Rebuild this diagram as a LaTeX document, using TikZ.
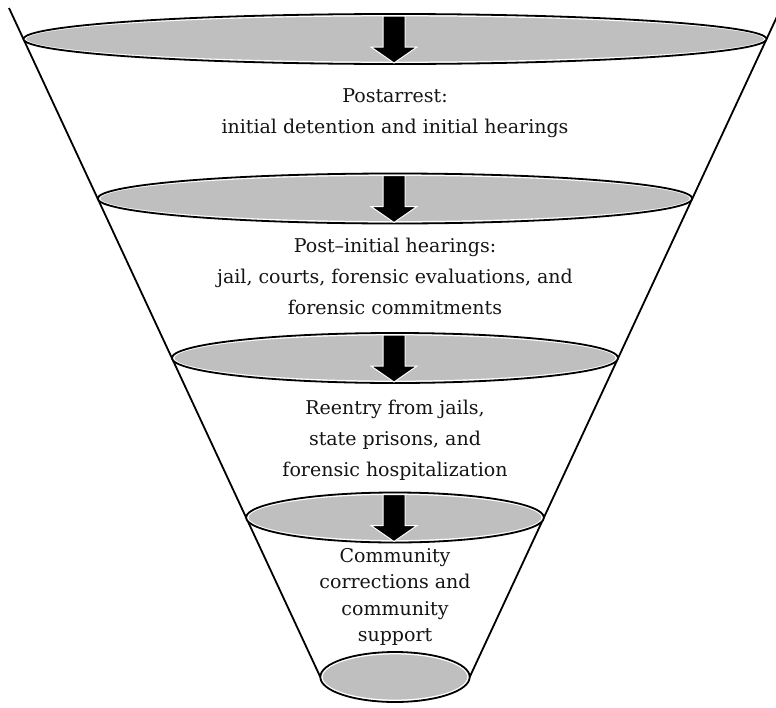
\documentclass[tikz,border=0pt]{standalone}
\usepackage{fontspec}
\setmainfont{DejaVu Serif}
\usetikzlibrary{calc}
\definecolor{funnelgray}{HTML}{BFBFBF}
\tikzset{
  coneline/.style={draw=black, line width=1.8pt},
  diskfill/.style={fill=funnelgray},
  diskinner/.style={draw=white, line width=1.6pt},
  diskouter/.style={draw=black, line width=1.8pt},
  flowarrow/.style={fill=black, draw=white, line width=1pt, line join=miter},
  lbl/.style={align=center, inner sep=0pt, text=black!92, font=\fontsize{19}{31}\selectfont},
}
\begin{document}
\begin{tikzpicture}[x=1pt,y=-1pt]
\useasboundingbox (0,0) rectangle (776,707);
\clip (0,0) rectangle (776,707);
% cone
\coordinate (tl) at (9,8);
\coordinate (tr) at (781,8);
\coordinate (bl) at (320.3,677);
\coordinate (br) at (469.7,677);
\draw[coneline] (tl) -- (bl);
\draw[coneline] (tr) -- (br);
% disks
\foreach \i/\cy/\rx in {1/39/371.5, 2/198.5/297.3, 3/358/223.1, 4/517.5/148.9, 5/677/74.7}{
  \coordinate (e\i) at (395,\cy);
  \fill[diskfill] (e\i) ellipse [x radius=\rx pt, y radius=25pt];
  \draw[diskinner] (e\i) ellipse [x radius=\rx pt-1.6pt, y radius=23.4pt];
  \draw[diskouter] (e\i) ellipse [x radius=\rx pt, y radius=25pt];
}
% arrows
\foreach \i/\cy in {1/39, 2/198.5, 3/358, 4/517.5}{
  \draw[flowarrow] ($(394,\cy)+(-11,-23)$) -- ++(22,0) -- ++(0,31) -- ++(12,0)
    -- ($(394,\cy)+(0,24)$) -- ++(-23,-16) -- ++(12,0) -- cycle;
}
% labels
\node[lbl] (t1) at (395,113) {Postarrest:\\initial detention and initial hearings};
\node[lbl] (t2) at (395,276) {Post--initial hearings:\\jail, courts, forensic evaluations, and\\forensic commitments};
\node[lbl] (t3) at (395,440) {Reentry from jails,\\state prisons, and\\forensic hospitalization};
\node[lbl, font=\fontsize{19}{26.5}\selectfont] (t4) at (395,597) {Community\\corrections and\\community\\support};
\end{tikzpicture}
\end{document}
